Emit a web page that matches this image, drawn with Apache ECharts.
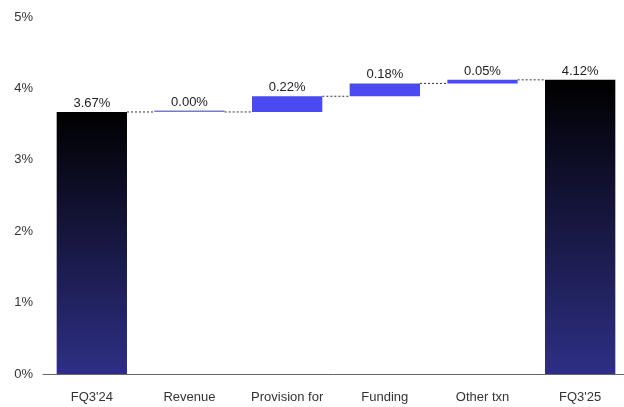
<!DOCTYPE html>
<html>
<head>
<meta charset="utf-8">
<script src="https://cdn.jsdelivr.net/npm/echarts@6/dist/echarts.min.js"></script>
<style>html,body{margin:0;padding:0;background:#fff}#c{width:624px;height:407px}</style>
</head>
<body>
<div id="c"></div>
<script>
const categories = ["FQ3'24", "Revenue", "Provision for\ncredit losses", "Funding", "Other txn", "FQ3'25"];
const values = [3.67, 0.00, 0.22, 0.18, 0.05, 4.12];
const isTotal = [true, false, false, false, false, true];
const yTicks = [0, 1, 2, 3, 4, 5];

// waterfall bases from values
const bases = [];
let run = 0;
values.forEach((v, i) => {
  if (isTotal[i]) { bases.push(0); run = v; }
  else { bases.push(run); run += v; }
});
const tops = values.map((v, i) => bases[i] + v);

const font = '"Liberation Sans", Arial, Helvetica, sans-serif';
const totalGrad = new echarts.graphic.LinearGradient(0, 0, 0, 1, [
  { offset: 0, color: '#000000' },
  { offset: 1, color: '#2e2f84' }
]);
const half = 0.36;
const connectorSeries = [];
for (let i = 0; i < values.length - 1; i++) {
  connectorSeries.push({
    type: 'line', xAxisIndex: 1, yAxisIndex: 0,
    data: [[i + half, tops[i]], [i + 1 - half, tops[i]]],
    symbol: 'none', silent: true,
    lineStyle: { color: '#333', width: 1, type: [2, 2] },
    z: 1
  });
}

const chart = echarts.init(document.getElementById('c'));
chart.setOption({
  animation: false,
  backgroundColor: '#fff',
  grid: { left: 43, right: -5, top: 17, bottom: 33, containLabel: false, outerBoundsMode: 'none' },
  xAxis: [{
    type: 'category', data: categories,
    axisLine: { lineStyle: { color: '#666', width: 1 } },
    axisTick: { show: false },
    axisLabel: { color: '#333', fontSize: 13, fontFamily: font, margin: 15, lineHeight: 16, interval: 0 }
  }, {
    type: 'value', min: -0.5, max: 5.5, show: false
  }],
  yAxis: {
    type: 'value', min: 0, max: 5, interval: 1,
    axisLine: { show: false }, axisTick: { show: false }, splitLine: { show: false },
    axisLabel: { color: '#333', fontSize: 13, fontFamily: font, margin: 10,
      formatter: v => yTicks.includes(v) ? v + '%' : '' }
  },
  series: [{
    type: 'bar', stack: 'w', barWidth: '72%', silent: true,
    itemStyle: { color: 'transparent' },
    data: bases
  }, {
    type: 'bar', stack: 'w', barWidth: '72%', barMinHeight: 1.5, silent: true,
    data: values.map((v, i) => ({
      value: v,
      itemStyle: { color: isTotal[i] ? totalGrad : (v === 0 ? '#7474f2' : '#4a4af2') }
    })),
    label: {
      show: true, position: 'top', distance: 2,
      color: '#222', fontSize: 13, fontFamily: font,
      formatter: p => values[p.dataIndex].toFixed(2) + '%'
    },
    z: 2
  }, ...connectorSeries]
});
</script>
</body>
</html>
